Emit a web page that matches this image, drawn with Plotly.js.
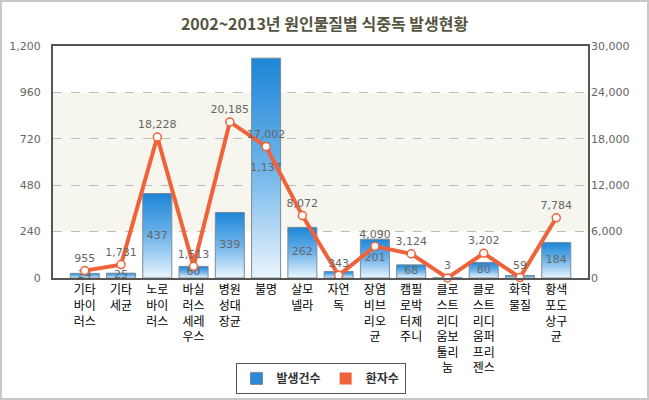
<!DOCTYPE html>
<html>
<head>
<meta charset="utf-8">
<script src="https://cdn.plot.ly/plotly-3.0.1.min.js"></script>
<style>
  html, body { margin: 0; padding: 0; background: #fff; }
  #wrap { width: 649px; height: 400px; box-sizing: border-box; border: 2px solid #c9c9c9; position: relative; overflow: hidden; }
  #chart { position: absolute; left: -2px; top: -2px; width: 649px; height: 400px; }
</style>
</head>
<body>
<div id="wrap"><div id="chart"></div></div>
<script>
// ---- data ----
const categories = ["기타바이러스", "기타세균", "노로바이러스", "바실러스세레우스", "병원성대장균", "불명", "살모넬라", "자연독", "장염비브리오균", "캠필로박터제주니", "클로스트리디움보툴리눔", "클로스트리디움퍼프리젠스", "화학물질", "황색포도상구균"];
const tickLabels = ["기타<br>바이<br>러스", "기타<br>세균", "노로<br>바이<br>러스", "바실<br>러스<br>세레<br>우스", "병원<br>성대<br>장균", "불명", "살모<br>넬라", "자연<br>독", "장염<br>비브<br>리오<br>균", "캠필<br>로박<br>터제<br>주니", "클로<br>스트<br>리디<br>움보<br>툴리<br>눔", "클로<br>스트<br>리디<br>움퍼<br>프리<br>젠스", "화학<br>물질", "황색<br>포도<br>상구<br>균"];
const outbreaks = [24, 25, 437, 60, 339, 1137, 262, 34, 201, 68, 1, 80, 13, 184];      // 발생건수 (left axis)
const patients  = [955, 1731, 18228, 1513, 20185, 17002, 8072, 343, 4090, 3124, 3, 3202, 59, 7784]; // 환자수 (right axis)
const leftTicks  = [0, 240, 480, 720, 960, 1200];
const rightTicks = [0, 6000, 12000, 18000, 24000, 30000];

const fmt = v => v.toLocaleString('en-US');
const numFont = { family: 'DejaVu Sans, Verdana, sans-serif', size: 11, color: '#666' };
const lineColor = '#f0623a';
const barColor = '#2a8ad8';
const axisRatio = rightTicks[5] / leftTicks[5];

// bar value labels sit at mid-bar; skip ones that are too small or sit under a line marker
const barText = outbreaks.map((v, i) =>
  (v >= 20 && Math.abs(patients[i] / axisRatio - v / 2) > 8) ? fmt(v) : '');

const traces = [
  {
    type: 'bar', name: '발생건수', x: categories, y: outbreaks, yaxis: 'y',
    marker: { color: barColor, line: { color: '#7a8c9a', width: 1 } },
    hoverinfo: 'skip'
  },
  {
    type: 'scatter', mode: 'text', x: categories, y: outbreaks.map(v => v / 2), yaxis: 'y',
    text: barText, textposition: 'middle center',
    textfont: numFont, showlegend: false, hoverinfo: 'skip'
  },
  {
    type: 'scatter', mode: 'lines+markers+text', name: '환자수', x: categories, y: patients, yaxis: 'y2',
    line: { color: lineColor, width: 4 },
    marker: { size: 8, color: '#fff', line: { color: lineColor, width: 1.5 } },
    text: patients.map(fmt), textposition: 'top center', textfont: numFont,
    showlegend: false, hoverinfo: 'skip', cliponaxis: false
  },
  {
    // legend swatch for the line series (square, like the reference)
    type: 'bar', name: '환자수', x: [categories[0]], y: [null], yaxis: 'y2',
    marker: { color: lineColor }, hoverinfo: 'skip'
  }
];

const layout = {
  width: 649, height: 400,
  margin: { l: 53, r: 61, t: 46, b: 122, autoexpand: false },
  paper_bgcolor: '#fff', plot_bgcolor: '#fff',
  barmode: 'overlay', bargap: 0.2,
  title: {
    text: '<b>2002~2013년 원인물질별 식중독 발생현황</b>',
    font: { family: 'Noto Sans CJK KR, sans-serif', size: 16, color: '#55553f' },
    x: 0.5, xanchor: 'center', y: 0.94, yanchor: 'middle', yref: 'container'
  },
  xaxis: {
    type: 'category', tickmode: 'array', tickvals: categories, ticktext: tickLabels,
    tickfont: { family: 'Noto Sans CJK KR, sans-serif', size: 12, color: '#000' },
    showline: true, linecolor: '#555', linewidth: 2, mirror: true, automargin: false,
    ticks: '', showgrid: false, fixedrange: true
  },
  yaxis: {
    range: [0, 1200], tickmode: 'array', tickvals: leftTicks, ticktext: leftTicks.map(fmt),
    tickfont: numFont, ticklabelstandoff: 8, automargin: false,
    showline: true, linecolor: '#555', linewidth: 2, mirror: true,
    showgrid: true, gridcolor: '#bdbdbd', griddash: 'dash', gridwidth: 1,
    zeroline: false, ticks: ''
  },
  yaxis2: {
    overlaying: 'y', side: 'right', range: [0, 30000], tickmode: 'array', automargin: false,
    tickvals: rightTicks, ticktext: rightTicks.map(fmt), tickfont: numFont,
    ticklabelstandoff: 2, showgrid: false, zeroline: false, showline: false, ticks: ''
  },
  shapes: [
    { type: 'rect', xref: 'paper', yref: 'y', x0: 0, x1: 1, y0: 240, y1: 960,
      fillcolor: '#f7f6ee', line: { width: 0 }, layer: 'below' }
  ],
  legend: {
    orientation: 'h', x: 0.5, xanchor: 'center', y: -0.366, yanchor: 'top',
    bordercolor: '#555', borderwidth: 1, bgcolor: '#fff',
    font: { family: 'Noto Sans CJK KR, sans-serif', size: 12, color: '#333', weight: 'bold' },
    traceorder: 'normal', itemwidth: 30
  },
  showlegend: true
};

Plotly.newPlot('chart', traces, layout, { displayModeBar: false, staticPlot: true }).then(gd => {
  const svg = gd.querySelector('svg.main-svg');
  const ns = 'http://www.w3.org/2000/svg';
  // vertical gradient fill for the bars
  let defs = svg.querySelector('defs');
  if (!defs) { defs = document.createElementNS(ns, 'defs'); svg.insertBefore(defs, svg.firstChild); }
  const grad = document.createElementNS(ns, 'linearGradient');
  grad.setAttribute('id', 'barGrad');
  grad.setAttribute('x1', '0'); grad.setAttribute('y1', '0');
  grad.setAttribute('x2', '0'); grad.setAttribute('y2', '1');
  [['0', '#1d86d7'], ['0.5', '#6fb4ea'], ['1', '#eaf5fd']].forEach(([o, c]) => {
    const s = document.createElementNS(ns, 'stop');
    s.setAttribute('offset', o); s.setAttribute('stop-color', c);
    grad.appendChild(s);
  });
  defs.appendChild(grad);
  gd.querySelectorAll('.barlayer .trace:first-child .point path').forEach(p => {
    p.style.fill = 'url(#barGrad)';
  });
});
</script>
</body>
</html>
